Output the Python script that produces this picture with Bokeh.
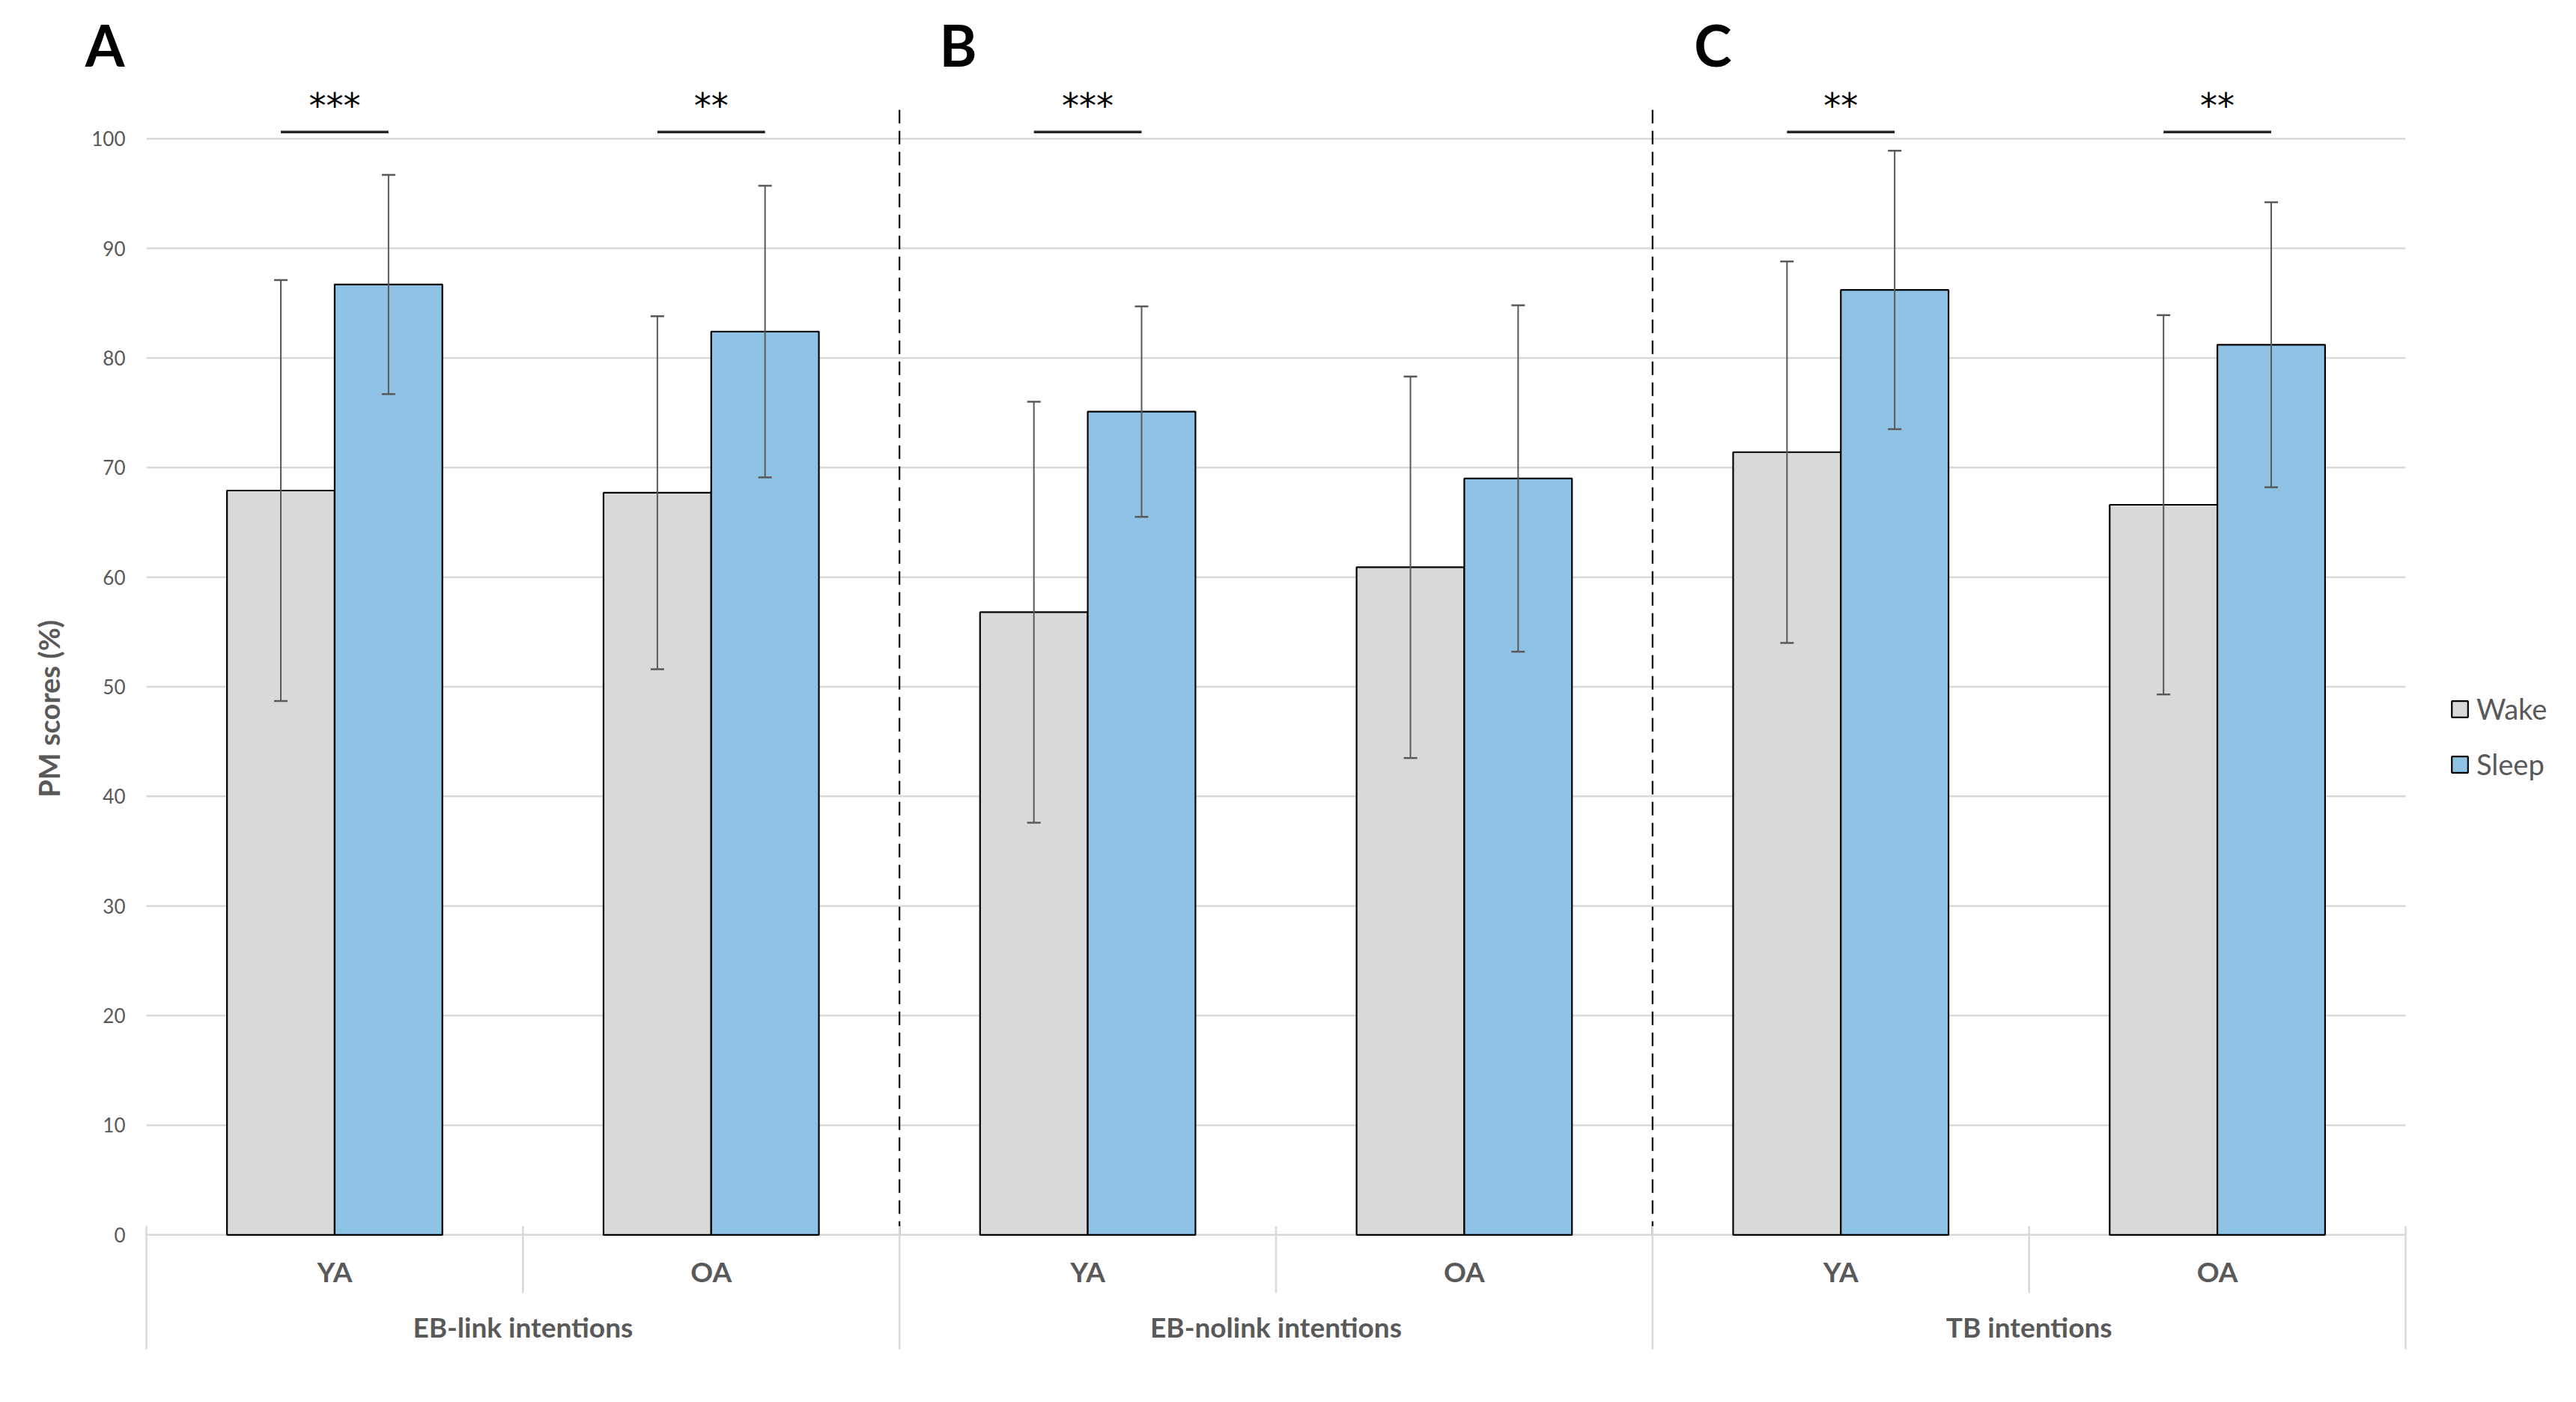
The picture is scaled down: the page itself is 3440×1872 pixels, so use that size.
import math
from bokeh.plotting import figure
from bokeh.models import (FactorRange, Range1d, ColumnDataSource, Whisker, TeeHead,
                          Legend, LegendItem, Label)
from bokeh.transform import dodge
from bokeh.core.properties import value
from bokeh.embed import file_html
from bokeh.resources import INLINE

# ---------------- data ----------------
groups = ["EB-link intentions", "EB-nolink intentions", "TB intentions"]
ages = ["YA", "OA"]
panel_letters = ["A", "B", "C"]
series_names = ["Wake", "Sleep"]

wake_mean = [67.9, 67.7, 56.8, 60.9, 71.4, 66.6]
wake_sd = [19.2, 16.1, 19.2, 17.4, 17.4, 17.3]
sleep_mean = [86.7, 82.4, 75.1, 69.0, 86.2, 81.2]
sleep_sd = [10.0, 13.3, 9.6, 15.8, 12.7, 13.0]
sig_marks = ["***", "**", "***", "", "**", "**"]
y_ticks = [0, 10, 20, 30, 40, 50, 60, 70, 80, 90, 100]
y_title = "PM scores (%)"

# ---------------- styling ----------------
FONT = "Lato"
GRAY = "#595959"
GRID = "#d9d9d9"
WAKE_COLOR = "#d9d9d9"
SLEEP_COLOR = "#8ec3e6"
OFF = 0.143
BAR_W = 0.286

factors = [(g, a) for g in groups for a in ages]

xr = FactorRange(*factors, factor_padding=0, group_padding=0,
                 range_padding=0.3878, range_padding_units="absolute")
p = figure(x_range=xr, y_range=Range1d(-12, 112),
           frame_width=3407, frame_height=1815,
           min_border_left=0, min_border_right=17, min_border_top=9, min_border_bottom=10,
           output_backend="svg", toolbar_location=None,
           x_axis_location=None, y_axis_location=None)
p.outline_line_color = None
p.xgrid.visible = False
p.ygrid.visible = False

# horizontal gridlines across the category area
first, last = factors[0], factors[-1]
grid_src = ColumnDataSource(dict(y=y_ticks, f0=[first] * len(y_ticks), f1=[last] * len(y_ticks),
                                 label=[str(t) for t in y_ticks]))
p.segment(x0=dodge("f0", -0.5, range=xr), x1=dodge("f1", 0.5, range=xr), y0="y", y1="y",
          source=grid_src, line_color=GRID, line_width=2.5)
# value-axis tick labels and title
p.text(x=dodge("f0", -0.5 - 0.0557, range=xr), y="y", text="label", source=grid_src,
       text_align="right", text_baseline="middle", text_font=value(FONT),
       text_font_size="26px", text_color=GRAY)
title_src = ColumnDataSource(dict(f0=[first], t=[y_title]))
p.text(x=dodge("f0", -0.5 - 0.2605, range=xr), y=48.0, text="t", source=title_src,
       angle=math.pi / 2, text_align="center", text_baseline="middle",
       text_font=value(FONT), text_font_size="38px", text_font_style="bold", text_color=GRAY)

wake_lo = [m - s for m, s in zip(wake_mean, wake_sd)]
wake_hi = [m + s for m, s in zip(wake_mean, wake_sd)]
sleep_lo = [m - s for m, s in zip(sleep_mean, sleep_sd)]
sleep_hi = [m + s for m, s in zip(sleep_mean, sleep_sd)]

src = ColumnDataSource(dict(x=factors, age=[f[1] for f in factors],
                            wake=wake_mean, sleep=sleep_mean,
                            wake_lo=wake_lo, wake_hi=wake_hi,
                            sleep_lo=sleep_lo, sleep_hi=sleep_hi))

wake_r = p.vbar(x=dodge("x", -OFF, range=xr), top="wake", bottom=0, width=BAR_W,
                source=src, fill_color=WAKE_COLOR, line_color="black", line_width=2.2)
sleep_r = p.vbar(x=dodge("x", OFF, range=xr), top="sleep", bottom=0, width=BAR_W,
                 source=src, fill_color=SLEEP_COLOR, line_color="black", line_width=2.2)

for off, lo, hi in [(-OFF, "wake_lo", "wake_hi"), (OFF, "sleep_lo", "sleep_hi")]:
    w = Whisker(base=dodge("x", off, range=xr), lower=lo, upper=hi, source=src,
                line_color=GRAY, line_width=2,
                upper_head=TeeHead(size=18, line_color=GRAY, line_width=2.5),
                lower_head=TeeHead(size=18, line_color=GRAY, line_width=2.5),
                level="overlay")
    p.add_layout(w)

# significance markers
sig_idx = [i for i, s in enumerate(sig_marks) if s]
sig_src = ColumnDataSource(dict(x=[factors[i] for i in sig_idx], sig=[sig_marks[i] for i in sig_idx]))
p.segment(x0=dodge("x", -OFF, range=xr), x1=dodge("x", OFF, range=xr),
          y0=100.6, y1=100.6, source=sig_src, line_color="#262626", line_width=3.5)
p.text(x="x", y=103.0, text="sig", source=sig_src, text_align="center", text_baseline="middle",
       text_font=value("DejaVu Sans"), text_font_size="46px", text_color="black")

# dashed panel separators
bnd_src = ColumnDataSource(dict(x=[(g, ages[-1]) for g in groups[:-1]]))
p.segment(x0=dodge("x", 0.5, range=xr), x1=dodge("x", 0.5, range=xr),
          y0=0, y1=102.8, source=bnd_src, line_color="black", line_width=2.2, line_dash="18 10")

# hierarchical category axis (labels + separators) below the zero line
left_src = ColumnDataSource(dict(x=[(g, ages[0]) for g in groups]))
p.segment(x0=dodge("x", -0.5, range=xr), x1=dodge("x", -0.5, range=xr),
          y0=0.8, y1=-10.45, source=left_src, line_color=GRID, line_width=2.5)
right_src = ColumnDataSource(dict(x=[last]))
p.segment(x0=dodge("x", 0.5, range=xr), x1=dodge("x", 0.5, range=xr),
          y0=0.8, y1=-10.45, source=right_src, line_color=GRID, line_width=2.5)
p.segment(x0=dodge("x", 0.5, range=xr), x1=dodge("x", 0.5, range=xr),
          y0=0.8, y1=-5.3, source=left_src, line_color=GRID, line_width=2.5)

p.text(x="x", y=-3.3, text="age", source=src, text_align="center", text_baseline="middle",
       text_font=value(FONT), text_font_size="37px", text_font_style="bold", text_color=GRAY)
grp_src = ColumnDataSource(dict(x=[(g, ages[0]) for g in groups], name=groups))
p.text(x=dodge("x", 0.5, range=xr), y=-8.4, text="name", source=grp_src,
       text_align="center", text_baseline="middle",
       text_font=value(FONT), text_font_size="37px", text_font_style="bold", text_color=GRAY)

# panel letters
letter_offsets = [-0.11, 0.156, 0.16]
for i, (letter, off) in enumerate(zip(panel_letters, letter_offsets)):
    p.add_layout(Label(x=i * len(ages) + off, y=108.6, text=letter,
                       text_align="center", text_baseline="middle", text_font=FONT,
                       text_font_size="76px", text_font_style="bold", text_color="black"))

# series legend
legend = Legend(items=[LegendItem(label=series_names[0], renderers=[wake_r]),
                       LegendItem(label=series_names[1], renderers=[sleep_r])],
                location=(3271, 779), margin=0, padding=0,
                border_line_color=None, background_fill_alpha=0,
                glyph_width=27, glyph_height=27, label_height=50, spacing=24,
                label_standoff=9, label_text_font=FONT, label_text_font_size="38px",
                label_text_color=GRAY)
p.add_layout(legend)

open("out.html", "w").write(file_html(p, INLINE))
